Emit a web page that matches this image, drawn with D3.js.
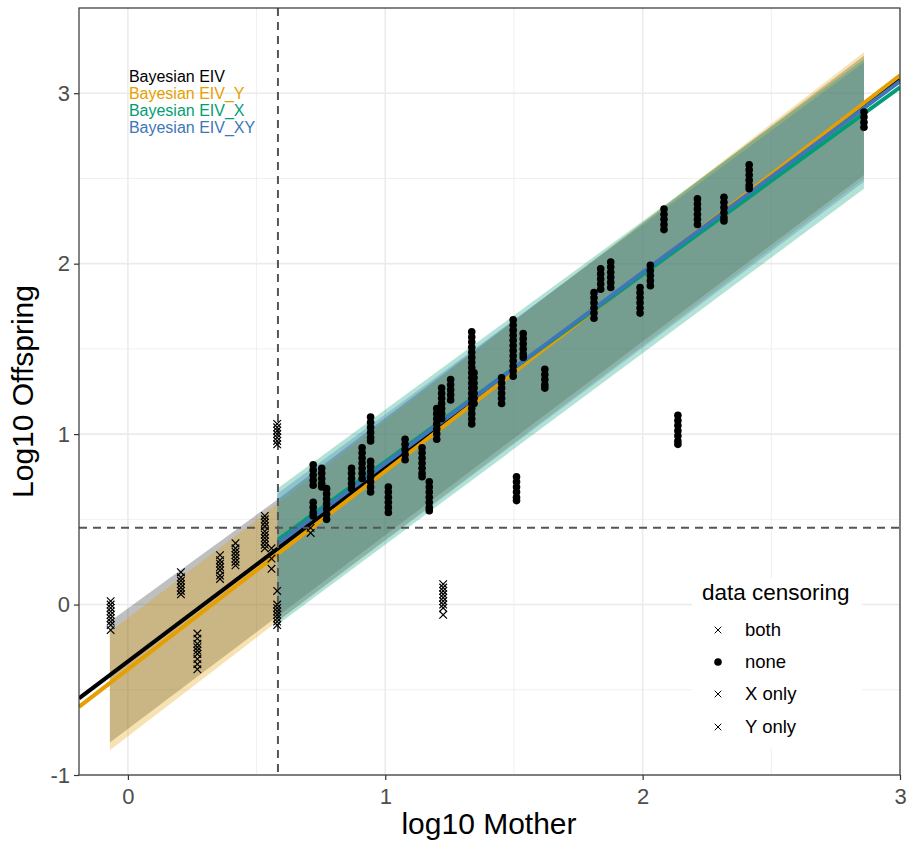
<!DOCTYPE html>
<html><head><meta charset="utf-8">
<script src="https://cdn.jsdelivr.net/npm/d3@7"></script>
<style>body{margin:0;background:#fff;} svg{display:block;font-family:"Liberation Sans",Arial,sans-serif;}</style>
</head><body>
<svg id="chart" width="908" height="844"></svg>
<script>
// ---------- data ----------
const xTicks = [0, 1, 2, 3];
const yTicks = [-1, 0, 1, 2, 3];
const xMinor = [0.5, 1.5, 2.5];
const yMinor = [-0.5, 0.5, 1.5, 2.5];
const xThreshold = 0.583;   // vertical dashed line
const yThreshold = 0.451;   // horizontal dashed line

const modelNames  = ["Bayesian EIV", "Bayesian EIV_Y", "Bayesian EIV_X", "Bayesian EIV_XY"];
const modelColors = ["#000000", "#E69F00", "#009E73", "#3E76B8"];
const annotY = [3.1, 3.0, 2.9, 2.8];

// ribbons: x, lower, upper
const ribEIV_x  = [-0.07, 0.58, 2.86];
const ribEIV_lo = [-0.81, -0.07, 2.52];
const ribEIV_hi = [-0.10, 0.615, 3.22];
const ribY_x  = [-0.07, 0.58, 2.86];
const ribY_lo = [-0.855, -0.10, 2.50];
const ribY_hi = [-0.16, 0.59, 3.24];
const ribX_x  = [0.58, 2.86];
const ribX_lo = [-0.12, 2.44];
const ribX_hi = [0.68, 3.20];
const ribXY_x  = [0.58, 2.86];
const ribXY_lo = [-0.10, 2.48];
const ribXY_hi = [0.65, 3.18];

// fitted lines: [x, y] end points
const lineEIV  = [[-0.19, -0.55], [3.0, 3.08]];
const lineY    = [[-0.19, -0.60], [3.0, 3.105]];
const lineX    = [[0.583, 0.38], [3.0, 3.035]];
const lineXY   = [[0.583, 0.36], [3.0, 3.07]];

// observations, by column: [x, y1, y2, ...]
const bothCols = [
  [-0.067, 0.02, 0.0, -0.02, -0.04, -0.06, -0.08, -0.1, -0.12, -0.15],
  [0.206, 0.19, 0.16, 0.14, 0.12, 0.1, 0.08, 0.06],
  [0.27, -0.17, -0.2, -0.23, -0.25, -0.27, -0.29, -0.32, -0.35, -0.38],
  [0.358, 0.29, 0.26, 0.24, 0.22, 0.2, 0.17, 0.15],
  [0.418, 0.36, 0.33, 0.31, 0.29, 0.27, 0.25, 0.23],
  [0.532, 0.43, 0.41, 0.39, 0.37, 0.35, 0.33],
  [0.558, 0.33, 0.27, 0.21],
  [0.58, 0.08, 0.0, -0.02, -0.04, -0.06, -0.08, -0.1, -0.12]
];
const xOnlyCols = [
  [0.532, 0.52, 0.5, 0.48, 0.46],
  [0.58, 1.06, 1.04, 1.02, 1.0, 0.98, 0.96, 0.94]
];
const yOnlyCols = [
  [0.71, 0.45, 0.42],
  [1.225, 0.12, 0.1, 0.08, 0.06, 0.04, 0.02, 0.0, -0.02, -0.06]
];
const noneCols = [
  [0.72, 0.82, 0.79, 0.76, 0.73, 0.70, 0.60, 0.57, 0.54, 0.52],
  [0.753, 0.80, 0.77, 0.74, 0.71, 0.69],
  [0.772, 0.68, 0.65, 0.62, 0.59, 0.56, 0.53, 0.50],
  [0.869, 0.80, 0.77, 0.74, 0.71, 0.68],
  [0.91, 0.92, 0.89, 0.86, 0.83, 0.80, 0.77, 0.74],
  [0.943, 1.10, 1.07, 1.04, 1.01, 0.98, 0.96, 0.84, 0.81, 0.78, 0.75, 0.72, 0.69, 0.66],
  [1.012, 0.69, 0.66, 0.63, 0.60, 0.57, 0.54],
  [1.077, 0.97, 0.94, 0.91, 0.88, 0.85],
  [1.143, 0.92, 0.89, 0.86, 0.83, 0.80, 0.77, 0.75],
  [1.171, 0.72, 0.69, 0.66, 0.63, 0.60, 0.57, 0.55],
  [1.2, 1.15, 1.12, 1.09, 1.06, 1.03, 1.0, 0.97],
  [1.219, 1.27, 1.24, 1.21, 1.18, 1.15, 1.12, 1.09],
  [1.254, 1.32, 1.29, 1.26, 1.23, 1.20],
  [1.336, 1.60, 1.57, 1.54, 1.51, 1.48, 1.45, 1.42, 1.39, 1.36, 1.33, 1.30, 1.27, 1.24, 1.21, 1.18, 1.15, 1.12, 1.09, 1.06],
  [1.345, 1.36, 1.33, 1.30, 1.27, 1.24, 1.21, 1.18],
  [1.452, 1.33, 1.30, 1.27, 1.24, 1.21, 1.18],
  [1.497, 1.67, 1.64, 1.61, 1.58, 1.55, 1.52, 1.49, 1.46, 1.43, 1.40, 1.37, 1.34],
  [1.536, 1.59, 1.56, 1.53, 1.50, 1.47, 1.45],
  [1.51, 0.75, 0.72, 0.69, 0.66, 0.63, 0.61],
  [1.62, 1.38, 1.35, 1.32, 1.29, 1.27],
  [1.811, 1.83, 1.80, 1.77, 1.74, 1.71, 1.68],
  [1.837, 1.97, 1.94, 1.91, 1.88, 1.85],
  [1.876, 2.01, 1.98, 1.95, 1.92, 1.89, 1.86],
  [1.99, 1.86, 1.83, 1.80, 1.77, 1.74, 1.71],
  [2.03, 1.99, 1.96, 1.93, 1.90, 1.87],
  [2.083, 2.32, 2.29, 2.26, 2.23, 2.20],
  [2.137, 1.11, 1.08, 1.05, 1.02, 0.99, 0.96, 0.94],
  [2.213, 2.38, 2.35, 2.32, 2.29, 2.26, 2.23],
  [2.316, 2.39, 2.36, 2.33, 2.30, 2.27, 2.25],
  [2.414, 2.58, 2.55, 2.52, 2.49, 2.46, 2.44],
  [2.86, 2.89, 2.86, 2.83, 2.80]
];
const censorLevels = ["both", "none", "X only", "Y only"];
const censorShapes = ["cross", "dot", "cross", "cross"];

// ---------- layout ----------
const svg = d3.select("#chart");
const P = {left: 79, right: 900, top: 8, bottom: 775};
const x = d3.scaleLinear().domain([-0.19, 3.0]).range([P.left, P.right]);
const y = d3.scaleLinear().domain([-1, 3.5]).range([P.bottom, P.top]);

const defs = svg.append("defs");
defs.append("clipPath").attr("id", "clip").append("rect")
  .attr("x", P.left).attr("y", P.top).attr("width", P.right - P.left).attr("height", P.bottom - P.top);

// grid
const grid = svg.append("g");
grid.selectAll(".xm").data(xMinor).join("line")
  .attr("x1", d => x(d)).attr("x2", d => x(d)).attr("y1", P.top).attr("y2", P.bottom)
  .attr("stroke", "#ebebeb").attr("stroke-width", 0.8);
grid.selectAll(".ym").data(yMinor).join("line")
  .attr("y1", d => y(d)).attr("y2", d => y(d)).attr("x1", P.left).attr("x2", P.right)
  .attr("stroke", "#ebebeb").attr("stroke-width", 0.8);
grid.selectAll(".xM").data(xTicks).join("line")
  .attr("x1", d => x(d)).attr("x2", d => x(d)).attr("y1", P.top).attr("y2", P.bottom)
  .attr("stroke", "#ebebeb").attr("stroke-width", 1.6);
grid.selectAll(".yM").data(yTicks).join("line")
  .attr("y1", d => y(d)).attr("y2", d => y(d)).attr("x1", P.left).attr("x2", P.right)
  .attr("stroke", "#ebebeb").attr("stroke-width", 1.6);

const plot = svg.append("g").attr("clip-path", "url(#clip)");

// ribbons
const area = d3.area().x(d => x(d[0])).y0(d => y(d[1])).y1(d => y(d[2]));
function rib(xs, lo, hi) { return xs.map((v, i) => [v, lo[i], hi[i]]); }
const ribbons = [
  {d: rib(ribEIV_x, ribEIV_lo, ribEIV_hi), c: modelColors[0], a: 0.25},
  {d: rib(ribY_x, ribY_lo, ribY_hi), c: modelColors[1], a: 0.3},
  {d: rib(ribX_x, ribX_lo, ribX_hi), c: modelColors[2], a: 0.3},
  {d: rib(ribXY_x, ribXY_lo, ribXY_hi), c: modelColors[3], a: 0.3}
];
plot.selectAll(".rib").data(ribbons).join("path")
  .attr("d", r => area(r.d)).attr("fill", r => r.c).attr("fill-opacity", r => r.a);

// fitted lines
const line = d3.line().x(d => x(d[0])).y(d => y(d[1]));
const lines = [lineEIV, lineY, lineX, lineXY];
plot.selectAll(".fit").data(lines).join("path")
  .attr("d", d => line(d)).attr("fill", "none")
  .attr("stroke", (d, i) => modelColors[i]).attr("stroke-width", 4);

// dashed threshold lines
plot.append("line").attr("x1", x(xThreshold)).attr("x2", x(xThreshold))
  .attr("y1", P.top).attr("y2", P.bottom)
  .attr("stroke", "#555").attr("stroke-width", 2).attr("stroke-dasharray", "8,6");
plot.append("line").attr("y1", y(yThreshold)).attr("y2", y(yThreshold))
  .attr("x1", P.left).attr("x2", P.right)
  .attr("stroke", "#555").attr("stroke-width", 2).attr("stroke-dasharray", "8,6");

// points
function flat(cols) { const out = []; cols.forEach(c => c.slice(1).forEach(v => out.push([c[0], v]))); return out; }
const crossPath = "M-3.8,-3.8L3.8,3.8M-3.8,3.8L3.8,-3.8";
const crossPts = [...flat(bothCols), ...flat(xOnlyCols), ...flat(yOnlyCols)];
plot.selectAll(".cr").data(crossPts).join("path")
  .attr("transform", d => `translate(${x(d[0])},${y(d[1])})`)
  .attr("d", crossPath).attr("stroke", "#000").attr("stroke-width", 1.2).attr("fill", "none");
plot.selectAll(".dt").data(flat(noneCols)).join("circle")
  .attr("cx", d => x(d[0])).attr("cy", d => y(d[1])).attr("r", 3.8).attr("fill", "#000");

// model labels
svg.selectAll(".ann").data(modelNames).join("text")
  .attr("x", x(0) + 1).attr("y", (d, i) => y(annotY[i])).attr("dy", "0.35em")
  .attr("fill", (d, i) => modelColors[i]).attr("font-size", 16).text(d => d);

// panel border
svg.append("rect").attr("x", P.left).attr("y", P.top).attr("width", P.right - P.left)
  .attr("height", P.bottom - P.top).attr("fill", "none").attr("stroke", "#333").attr("stroke-width", 1.2);

// axes
const xAxis = svg.append("g").attr("transform", `translate(0,${P.bottom})`)
  .call(d3.axisBottom(x).tickValues(xTicks).tickFormat(d => String(d)).tickSize(5).tickPadding(8));
const yAxis = svg.append("g").attr("transform", `translate(${P.left},0)`)
  .call(d3.axisLeft(y).tickValues(yTicks).tickFormat(d => String(d)).tickSize(5).tickPadding(4));
[xAxis, yAxis].forEach(a => {
  a.select(".domain").remove();
  a.selectAll(".tick line").attr("stroke", "#333").attr("stroke-width", 1.2);
  a.selectAll(".tick text").attr("fill", "#4d4d4d").attr("font-size", 22)
    .attr("font-family", "'Liberation Sans',Arial,sans-serif");
});

svg.append("text").attr("x", 489).attr("y", 834)
  .attr("text-anchor", "middle").attr("font-size", 30).attr("fill", "#000").text("log10 Mother");
svg.append("text").attr("transform", `translate(33,${(P.top + P.bottom) / 2}) rotate(-90)`)
  .attr("text-anchor", "middle").attr("font-size", 30).attr("fill", "#000").text("Log10 Offspring");

// censoring legend
const lg = svg.append("g");
lg.append("rect").attr("x", 692).attr("y", 578).attr("width", 170).attr("height", 170).attr("fill", "#fff");
lg.append("text").attr("x", 702).attr("y", 600).attr("font-size", 22.5).attr("fill", "#000").text("data censoring");
const rowY = [630, 662, 694, 727];
censorLevels.forEach((lab, i) => {
  if (censorShapes[i] === "dot") {
    lg.append("circle").attr("cx", 718).attr("cy", rowY[i]).attr("r", 3.8).attr("fill", "#000");
  } else {
    lg.append("path").attr("transform", `translate(718,${rowY[i]})`).attr("d", "M-3.3,-3.3L3.3,3.3M-3.3,3.3L3.3,-3.3")
      .attr("stroke", "#000").attr("stroke-width", 1);
  }
  lg.append("text").attr("x", 745).attr("y", rowY[i]).attr("dy", "0.35em")
    .attr("font-size", 18.5).attr("fill", "#000").text(lab);
});
</script>
</body></html>
